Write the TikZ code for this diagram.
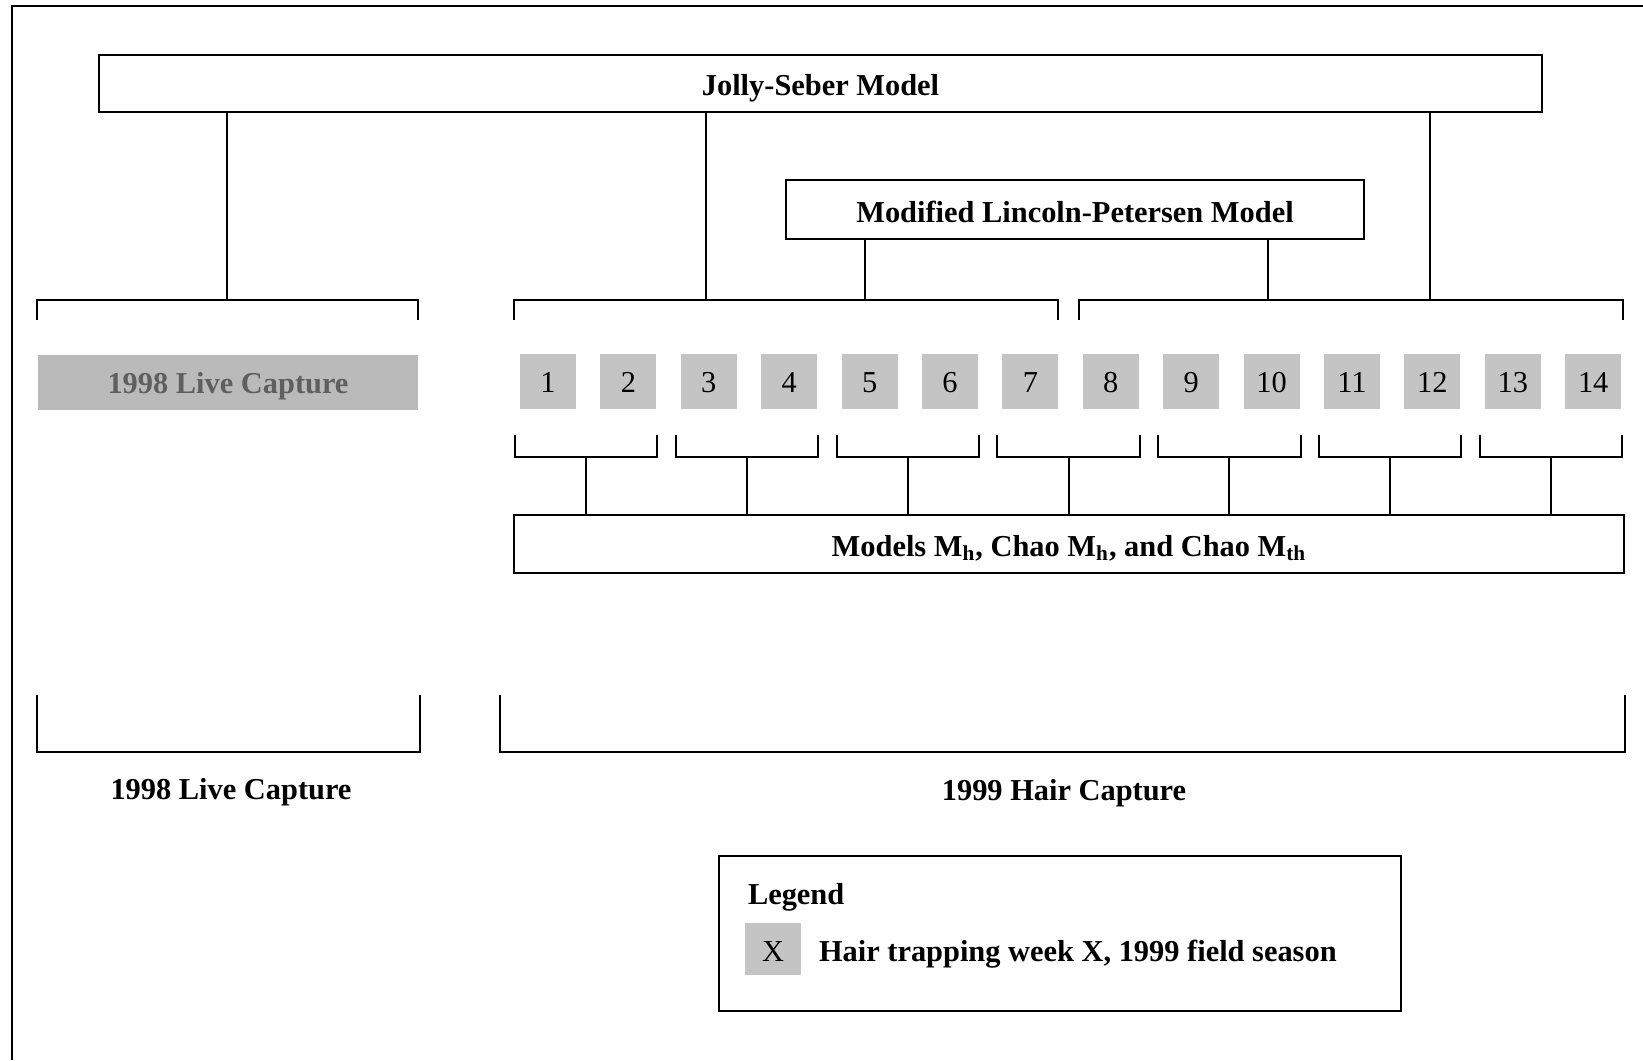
\documentclass[tikz,border=0pt]{standalone}
\usepackage{fontspec}
\setmainfont{Liberation Serif}
\definecolor{wk}{RGB}{196,196,196}
\definecolor{livegray}{RGB}{186,186,186}
\definecolor{livetext}{RGB}{95,95,95}
\newcommand\lowr[2]{\raisebox{-#1}[\height][\depth]{#2}}
\begin{document}
\fontsize{15.2}{18}\selectfont
\begin{tikzpicture}[x=0.5pt,y=-0.5pt, line width=1pt,
  box/.style={draw, line width=1.1pt, inner sep=0pt, font=\bfseries},
  week/.style={fill=wk, minimum width=28pt, minimum height=27.5pt, inner sep=0pt},
  lbl/.style={inner sep=0pt, font=\bfseries},
  conn/.style={line width=1pt},
  brk/.style={line width=1pt}]
\useasboundingbox (0,0) rectangle (1643,1060);
\fill[white] (0,0) rectangle (1643,1060);
\draw[line width=1.2pt] (12,1060) -- (12,6) -- (1643,6);

% top models
\node[box, minimum width=721.5pt, minimum height=28.5pt] (js) at (820.5,83.5) {\lowr{2.5pt}{Jolly-Seber Model}};
\node[box, minimum width=289pt, minimum height=29.5pt] (lp) at (1075,209.5) {\lowr{1pt}{Modified Lincoln-Petersen Model}};

% week boxes
\foreach \i in {1,...,14}
  \node[week] (w\i) at ({548+80.4*(\i-1)},381.5) {\lowr{0.5pt}{\i}};
\node[fill=livegray, minimum width=190pt, minimum height=27.5pt, inner sep=0pt, text=livetext, font=\bfseries] (live) at (228,382.5) {\lowr{2pt}{1998 Live Capture}};

% top brackets
\coordinate (t0) at (227,300);
\coordinate (t1) at (706,300);
\coordinate (t2) at (1430,300);
\coordinate (l1) at (865,300);
\coordinate (l2) at (1268,300);
\draw[brk] (37,320) -- (37,300) -- (418,300) -- (418,320);
\draw[brk] (514,320) -- (514,300) -- (1058,300) -- (1058,320);
\draw[brk] (1079,320) -- (1079,300) -- (1623,300) -- (1623,320);
\draw[conn] (js.south -| t0) -- (t0);
\draw[conn] (js.south -| t1) -- (t1);
\draw[conn] (js.south -| t2) -- (t2);
\draw[conn] (lp.south -| l1) -- (l1);
\draw[conn] (lp.south -| l2) -- (l2);

% closed models
\node[box, minimum width=555pt, minimum height=29pt] (mods) at (1069,544) {\lowr{2pt}{Models M\textsubscript{h}, Chao M\textsubscript{h}, and Chao M\textsubscript{th}}};
\foreach \k in {1,...,7} {
  \pgfmathsetmacro\xl{548+80.4*(2*\k-2)-33}
  \pgfmathsetmacro\xr{548+80.4*(2*\k-1)+29}
  \draw[brk] (\xl,435) -- (\xl,457) -- (\xr,457) -- (\xr,435);
  \coordinate (p\k) at ({(\xl+\xr)/2},457);
  \draw[conn] (p\k) -- (p\k |- mods.north);
}

% bottom brackets
\draw[brk] (37,695) -- (37,752) -- (420,752) -- (420,695);
\draw[brk] (500,695) -- (500,752) -- (1625,752) -- (1625,695);
\node[lbl] (lab98) at (231,792) {1998 Live Capture};
\node[lbl] (lab99) at (1064,793) {1999 Hair Capture};

% legend
\node[box, minimum width=341pt, minimum height=77.5pt] (leg) at (1060,933.5) {};
\node[lbl, anchor=west] (legt) at (747,897) {Legend};
\node[week, minimum width=28pt, minimum height=26pt] (legx) at (773,949) {\lowr{1.5pt}{X}};
\node[lbl, anchor=west] (legd) at (818,954) {Hair trapping week X, 1999 field season};
\end{tikzpicture}
\end{document}
